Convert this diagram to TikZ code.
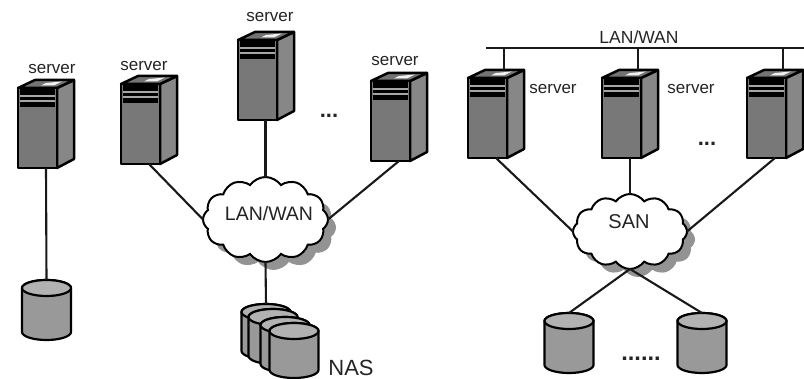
\documentclass[tikz,border=0pt]{standalone}
\usepackage{fontspec}
\setmainfont{Liberation Sans}
\usetikzlibrary{shapes.symbols,shadows}
\definecolor{frontgray}{gray}{0.47}
\definecolor{sidegray}{gray}{0.53}
\definecolor{topgray}{gray}{0.45}
\definecolor{diskgray}{gray}{0.6}
\definecolor{disktop}{gray}{0.7}
\definecolor{inkgray}{gray}{0.14}
\tikzset{
	every node/.style={inner sep=0pt, outer sep=0pt, text=inkgray}
}
\tikzset{
	serverbody/.style={rectangle, minimum width=56pt, minimum height=88pt},
	serverface/.style={draw=black, line width=2.5pt, line join=round},
	diskface/.style={draw=black, line width=2.2pt, line join=round},
	link/.style={draw=black!90, line width=2.1pt},
	netcloud/.style={cloud, cloud puffs=12, cloud puff arc=110, draw=black,
		line width=2pt, fill=white,
		drop shadow={shadow xshift=8pt, shadow yshift=-8pt, fill=gray!85, opacity=1}},
	srvlabel/.style={font=\fontsize{17}{17}\selectfont},
	dots/.style={anchor=base, font=\fontsize{22}{22}\selectfont\bfseries}
}
% #1 name, #2 and #3 top left corner of the front face
\newcommand{\serverbox}[3]{
	\node (#1) [serverbody] at (#2+28,#3+36) {};
	\coordinate (#1t) at (#2+36,#3-8);
	\fill[serverface, fill=sidegray] (#2+39,#3) -- (#2+56,#3-8) -- (#2+56,#3+71)
		-- (#2+39,#3+80) -- cycle;
	\fill[serverface, fill=topgray] (#2,#3) -- (#2+17,#3-8) -- (#2+56,#3-8)
		-- (#2+39,#3) -- cycle;
	\fill[white!90!gray] (#2+23,#3-2.5) -- (#2+28,#3-5) -- (#2+44,#3-6.5)
		-- (#2+36,#3-2.5) -- cycle;
	\fill[serverface, fill=frontgray] (#2,#3) rectangle (#2+39,#3+80);
	\fill[black] (#2+2,#3+1) rectangle (#2+37,#3+19);
	\fill[gray!70] (#2+2,#3+7) rectangle (#2+37,#3+9);
	\fill[gray!70] (#2+2,#3+12.5) rectangle (#2+37,#3+14.5);
}
% #1 name, #2 middle, #3 top, #4 height
\newcommand{\diskbox}[4]{
	\node (#1) [rectangle, minimum width=49pt, minimum height=#4 pt] at (#2,#3+#4/2) {};
	\fill[diskface, fill=diskgray] (#2-24.5,#3+8) -- (#2-24.5,#3+#4-8)
		arc[start angle=180, end angle=360, x radius=24.5pt, y radius=8pt]
		-- (#2+24.5,#3+8)
		arc[start angle=0, end angle=180, x radius=24.5pt, y radius=8pt] -- cycle;
	\fill[diskface, fill=disktop] (#2,#3+8) ellipse [x radius=24.5pt, y radius=8pt];
}

\begin{document}
\begin{tikzpicture}[x=1pt,y=-1pt]
	\useasboundingbox (0,0) rectangle (804,379);

	\serverbox{1}{18}{88}
	\serverbox{2}{121}{84}
	\serverbox{3}{238}{40}
	\serverbox{4}{371}{81}
	\serverbox{5}{468}{78}
	\serverbox{6}{602}{78}
	\serverbox{7}{747}{78}

	\diskbox{d1}{46.5}{280}{60}
	\diskbox{n1}{266}{304}{55}
	\diskbox{n2}{273}{309}{55}
	\diskbox{n3}{285}{317}{55}
	\diskbox{n4}{294}{323}{55}
	\diskbox{d2}{569}{313}{60}
	\diskbox{d3}{702}{313}{60}

	\node (lan) [netcloud, minimum width=125pt, minimum height=85pt] at (265.5,219.5) {};
	\node (san) [netcloud, minimum width=114pt, minimum height=75pt] at (630,231.5) {};

	\coordinate (busl) at (486,48);
	\coordinate (busr) at (804,48);

	\draw[link] (1.south) -- (d1.north);
	\draw[link] (2.south) -- (lan.west);
	\draw[link] (lan.north |- 3.south) -- (lan.north);
	\draw[link] (4.south) -- (lan.east);
	\draw[link] (lan.south) -- (n1.north);
	\draw[link] (busl) -- (busr);
	\draw[link] (5t |- busl) -- (5t);
	\draw[link] (6t |- busl) -- (6t);
	\draw[link] (7t |- busl) -- (7t);
	\draw[link] (5.south) -- (san.west);
	\draw[link] (6.south) -- (san.north);
	\draw[link] (7.south) -- (san.east);
	\draw[link] (san.south) -- (d2.north);
	\draw[link] (san.south) -- (d3.north);

	\node (t1) [srvlabel] at (52,69) {server};
	\node (t2) [srvlabel] at (144,66) {server};
	\node (t3) [srvlabel] at (270,17) {server};
	\node (t4) [srvlabel] at (395,61) {server};
	\node (t5) [srvlabel] at (553,89) {server};
	\node (t6) [srvlabel] at (691,89) {server};
	\node (t7) [font=\fontsize{17.5}{17.5}\selectfont] at (639,37) {LAN/WAN};
	\node (t8) [font=\fontsize{19.5}{19.5}\selectfont] at (269,214) {LAN/WAN};
	\node (t9) [font=\fontsize{20}{20}\selectfont] at (629,222) {SAN};
	\node (t10) [font=\fontsize{22}{22}\selectfont] at (351,368) {NAS};
	\node (t11) [dots] at (329,118) {...};
	\node (t12) [dots] at (707,146) {...};
	\node (t13) [dots, font=\fontsize{23.5}{23.5}\selectfont\bfseries] at (641,361) {......};
\end{tikzpicture}
\end{document}
